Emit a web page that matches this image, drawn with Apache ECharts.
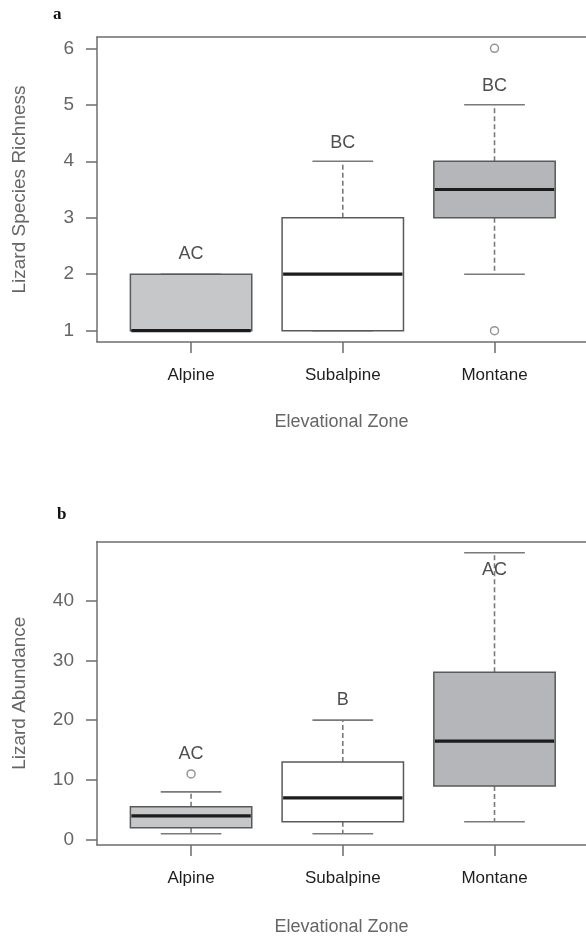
<!DOCTYPE html>
<html>
<head>
<meta charset="utf-8">
<script src="https://cdn.jsdelivr.net/npm/echarts@6/dist/echarts.min.js"></script>
<style>
html,body{margin:0;padding:0;background:#fff;}
#chart{width:586px;height:936px;}
</style>
</head>
<body>
<div id="chart"></div>
<script>
// ---- data ----
var categories = ['Alpine', 'Subalpine', 'Montane'];
var richnessTicks = [1, 2, 3, 4, 5, 6];
var abundanceTicks = [0, 10, 20, 30, 40];
// [lower whisker, Q1, median, Q3, upper whisker]
var richnessBoxes = [[1, 1, 1, 2, 2], [1, 1, 2, 3, 4], [2, 3, 3.5, 4, 5]];
var richnessOutliers = [[], [], [6, 1]];
var richnessLetters = ['AC', 'BC', 'BC'];
var richnessLetterY = [2.35, 4.33, 5.33];
var abundanceBoxes = [[1, 2, 4, 5.5, 8], [1, 3, 7, 13, 20], [3, 9, 16.5, 28, 48]];
var abundanceOutliers = [[11], [], []];
var abundanceLetters = ['AC', 'B', 'AC'];
var abundanceLetterY = [14.4, 23.4, 45.1];

// ---- styles ----
var boxFills = ['#c6c7c9', '#ffffff', '#b5b6b9'];
var axisGray = '#6e6e6e';
var boxBorder = '#5a5a5a';
var whiskerGray = '#7a7a7a';
var font = 'Liberation Sans, Arial, sans-serif';

function boxData(boxes) {
  return boxes.map(function (b, i) { return [i + 1].concat(b); });
}
function outlierData(outs) {
  var res = [];
  outs.forEach(function (arr, i) { arr.forEach(function (v) { res.push([i + 1, v]); }); });
  return res;
}
function letterData(letters, ys) {
  return letters.map(function (l, i) { return { value: [i + 1, ys[i]], name: l }; });
}

function renderBox(params, api) {
  var x = api.value(0);
  var lo = api.coord([x, api.value(1)]);
  var q1 = api.coord([x, api.value(2)]);
  var med = api.coord([x, api.value(3)]);
  var q3 = api.coord([x, api.value(4)]);
  var hi = api.coord([x, api.value(5)]);
  var w = api.size([0.8, 0])[0];
  var cx = lo[0];
  var dash = { stroke: whiskerGray, lineWidth: 1.6, lineDash: [5, 3] };
  var solid = { stroke: whiskerGray, lineWidth: 1.6 };
  return {
    type: 'group',
    children: [
      { type: 'line', shape: { x1: cx, y1: q3[1], x2: cx, y2: hi[1] }, style: dash },
      { type: 'line', shape: { x1: cx, y1: q1[1], x2: cx, y2: lo[1] }, style: dash },
      { type: 'line', shape: { x1: cx - w / 4, y1: hi[1], x2: cx + w / 4, y2: hi[1] }, style: solid },
      { type: 'line', shape: { x1: cx - w / 4, y1: lo[1], x2: cx + w / 4, y2: lo[1] }, style: solid },
      { type: 'rect', shape: { x: cx - w / 2, y: q3[1], width: w, height: q1[1] - q3[1] },
        style: { fill: boxFills[params.dataIndex], stroke: boxBorder, lineWidth: 1.5 } },
      { type: 'line', shape: { x1: cx - w / 2 + 1, y1: med[1], x2: cx + w / 2 - 1, y2: med[1] },
        style: { stroke: '#1c1c1c', lineWidth: 3.2 } }
    ]
  };
}

var X_MIN = 0.38, X_MAX = 3.603;
function xAxisCfg(idx, gap) {
  return {
    type: 'value', gridIndex: idx, min: X_MIN, max: X_MAX,
    splitLine: { show: false },
    axisLine: { show: true, onZero: false, lineStyle: { color: axisGray, width: 1.5 } },
    axisTick: { show: true, length: 11, customValues: [1, 2, 3], lineStyle: { color: axisGray, width: 1.5 } },
    axisLabel: { show: true, customValues: [1, 2, 3], margin: 25, color: '#1e1e1e', fontSize: 17, fontFamily: font,
      formatter: function (v) { return categories[Math.round(v) - 1] || ''; } },
    name: 'Elevational Zone', nameLocation: 'middle', nameGap: gap,
    nameTextStyle: { color: '#666', fontSize: 18, fontFamily: font }
  };
}
function topAxisCfg(idx) {
  return {
    type: 'value', gridIndex: idx, position: 'top', min: X_MIN, max: X_MAX,
    splitLine: { show: false },
    axisLine: { show: true, onZero: false, lineStyle: { color: axisGray, width: 1.5 } },
    axisTick: { show: false }, axisLabel: { show: false }
  };
}
function yAxisCfg(idx, min, max, ticks, name) {
  return {
    type: 'value', gridIndex: idx, min: min, max: max,
    splitLine: { show: false },
    axisLine: { show: true, onZero: false, lineStyle: { color: axisGray, width: 1.5 } },
    axisTick: { show: true, length: 11, customValues: ticks, lineStyle: { color: axisGray, width: 1.5 } },
    axisLabel: { show: true, customValues: ticks, margin: 23, color: '#666', fontSize: 19, fontFamily: font },
    name: name, nameLocation: 'middle', nameGap: 68,
    nameTextStyle: { color: '#666', fontSize: 19, fontFamily: font }
  };
}

var chart = echarts.init(document.getElementById('chart'));
chart.setOption({
  backgroundColor: '#fff',
  animation: false,
  title: [
    { text: 'a', left: 48, top: 1, textStyle: { fontFamily: 'Liberation Serif, Times New Roman, serif', fontWeight: 'bold', fontSize: 17, color: '#111' } },
    { text: 'b', left: 52, top: 501, textStyle: { fontFamily: 'Liberation Serif, Times New Roman, serif', fontWeight: 'bold', fontSize: 17, color: '#111' } }
  ],
  grid: [
    { left: 97, top: 37, right: 0, height: 305, outerBoundsMode: 'none' },
    { left: 97, top: 541.5, right: 0, height: 303.5, outerBoundsMode: 'none' }
  ],
  xAxis: [xAxisCfg(0, 71), xAxisCfg(1, 73), topAxisCfg(0), topAxisCfg(1)],
  yAxis: [
    yAxisCfg(0, 0.8, 6.2, richnessTicks, 'Lizard Species Richness'),
    yAxisCfg(1, -0.88, 49.88, abundanceTicks, 'Lizard Abundance')
  ],
  series: [
    { type: 'custom', xAxisIndex: 0, yAxisIndex: 0, renderItem: renderBox, data: boxData(richnessBoxes), encode: { x: 0, y: [1, 2, 3, 4, 5] } },
    { type: 'custom', xAxisIndex: 1, yAxisIndex: 1, renderItem: renderBox, data: boxData(abundanceBoxes), encode: { x: 0, y: [1, 2, 3, 4, 5] } },
    { type: 'scatter', xAxisIndex: 0, yAxisIndex: 0, data: outlierData(richnessOutliers), symbol: 'circle', symbolSize: 8,
      itemStyle: { color: '#fff', borderColor: whiskerGray, borderWidth: 1.5 } },
    { type: 'scatter', xAxisIndex: 1, yAxisIndex: 1, data: outlierData(abundanceOutliers), symbol: 'circle', symbolSize: 8,
      itemStyle: { color: '#fff', borderColor: whiskerGray, borderWidth: 1.5 } },
    { type: 'scatter', xAxisIndex: 0, yAxisIndex: 0, data: letterData(richnessLetters, richnessLetterY), symbolSize: 1,
      itemStyle: { color: 'transparent' },
      label: { show: true, position: 'inside', formatter: '{b}', color: '#222', fontSize: 18, fontFamily: font } },
    { type: 'scatter', xAxisIndex: 1, yAxisIndex: 1, data: letterData(abundanceLetters, abundanceLetterY), symbolSize: 1,
      itemStyle: { color: 'transparent' },
      label: { show: true, position: 'inside', formatter: '{b}', color: '#222', fontSize: 18, fontFamily: font } }
  ]
});
</script>
</body>
</html>
